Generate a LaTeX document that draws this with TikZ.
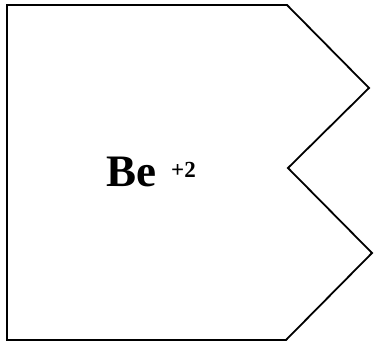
\documentclass[tikz,border=0pt]{standalone}
\usepackage{fontspec}
\setmainfont{Liberation Serif}
\begin{document}
\begin{tikzpicture}[x=1pt,y=1pt,
  outline/.style={draw=black,line width=1.8pt,line join=miter},
  label/.style={inner sep=0pt,anchor=base west}]
\useasboundingbox (0,0) rectangle (376,344);
\coordinate (tl) at (7,339);
\coordinate (tr) at (287,339);
\coordinate (p1) at (369,256);
\coordinate (notch) at (288,176);
\coordinate (p2) at (372,91);
\coordinate (br) at (286,4);
\coordinate (bl) at (7,4);
\draw[outline] (tl) -- (tr) -- (p1) -- (notch) -- (p2) -- (br) -- (bl) -- cycle;
\node[label] (be) at (106,157) {\fontsize{45}{45}\selectfont\bfseries Be};
\node[label] (ch) at (171,166) {\fontsize{23}{23}\selectfont\bfseries +2};
\end{tikzpicture}
\end{document}
